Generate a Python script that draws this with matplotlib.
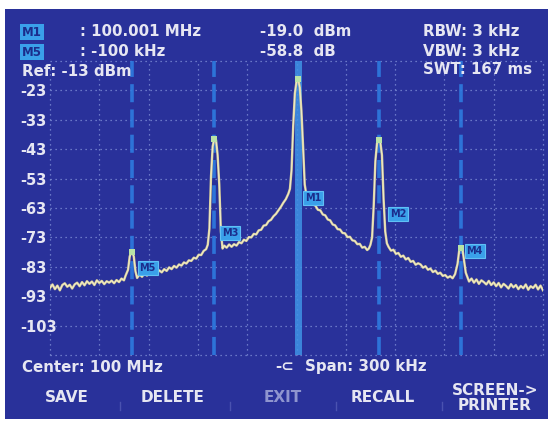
import matplotlib
matplotlib.use("Agg")
import matplotlib.pyplot as plt
from matplotlib.patches import Rectangle

# ---- analyzer settings -------------------------------------------------
center_mhz = 100.0
span_khz = 300
ref_dbm = -13
db_per_div = 10
y_tick_values = [-23, -33, -43, -53, -63, -73, -83, -93, -103]

# ---- measured trace: offset from center (kHz) and level (dBm) ------------
trace_khz = [
    -150, -148.5, -147, -145.5, -144, -142.5, -141, -139.5,
    -138, -136.5, -135, -133.5, -132, -130.5, -129, -127.5,
    -126, -124.5, -123, -121.5, -120, -118.5, -117, -115.5,
    -114, -112.5, -111, -109.5, -108, -106.5, -105, -104,
    -102.5, -101.5, -100.5, -100, -99, -98, -97, -95.5,
    -94, -92.5, -91, -89.5, -88, -86.5, -85, -83.5,
    -82, -80.5, -79, -77.5, -76, -74.5, -73, -71.5,
    -70, -68.5, -67, -65.5, -64, -62.5, -61, -59.5,
    -58, -56.5, -55, -54, -53, -52, -51, -50,
    -49, -48, -47, -46, -45, -44, -42.5, -41,
    -39.5, -38, -36.5, -35, -33.5, -32, -30.5, -29,
    -27.5, -26, -24.5, -23, -21.5, -20, -18.5, -17,
    -15.5, -14, -12.5, -11, -9.5, -8, -6.5, -5,
    -4, -3, -2, -1, 0, 1, 2, 3,
    4, 5, 6, 7, 8.5, 10, 11.5, 13,
    14.5, 16, 17.5, 19, 20.5, 22, 23.5, 25,
    26.5, 28, 29.5, 31, 32.5, 34, 35.5, 37,
    38.5, 40, 41.5, 43, 44, 45, 46, 47,
    48, 49, 50, 51, 52, 53, 54, 55,
    56, 57.5, 59, 60.5, 62, 63.5, 65, 66.5,
    68, 69.5, 71, 72.5, 74, 75.5, 77, 78.5,
    80, 81.5, 83, 84.5, 86, 87.5, 89, 90.5,
    92, 93.5, 95, 96.5, 98, 99, 100, 101,
    102, 103, 104, 105, 106.5, 108, 109.5, 111,
    112.5, 114, 115.5, 117, 118.5, 120, 121.5, 123,
    124.5, 126, 127.5, 129, 130.5, 132, 133.5, 135,
    136.5, 138, 139.5, 141, 142.5, 144, 145.5, 147,
    148.5, 150,
]
trace_dbm = [
    -90.2, -89.0, -90.6, -89.4, -91.0, -89.2, -88.6, -89.8,
    -89.1, -90.4, -89.0, -88.4, -89.6, -88.2, -89.3, -87.9,
    -88.8, -88.0, -89.2, -87.6, -88.5, -87.8, -88.9, -87.9,
    -88.4, -87.7, -88.6, -87.5, -88.2, -87.0, -87.6, -86.0,
    -84.0, -79.5, -77.9, -77.8, -79.5, -84.5, -86.8, -85.6,
    -86.4, -85.2, -86.0, -84.9, -85.7, -84.6, -85.3, -84.2,
    -84.9, -83.8, -84.4, -83.2, -83.8, -82.7, -83.3, -82.2,
    -82.6, -81.5, -81.9, -80.8, -81.0, -79.9, -80.2, -78.9,
    -79.0, -77.6, -77.0, -75.5, -70.0, -52.0, -42.0, -39.5,
    -39.8, -45.0, -55.0, -71.0, -76.8, -75.8, -76.5, -75.4,
    -76.2, -75.3, -75.8, -74.6, -75.0, -73.8, -74.2, -72.9,
    -73.0, -71.8, -72.0, -70.6, -70.4, -69.0, -68.8, -67.5,
    -67.0, -65.8, -65.0, -63.8, -62.6, -61.2, -60.0, -58.2,
    -56.5, -50.0, -35.0, -24.0, -20.0, -19.0, -22.0, -30.0,
    -42.0, -55.0, -58.5, -60.0, -60.4, -61.8, -62.2, -63.6,
    -63.8, -65.2, -65.5, -66.9, -67.2, -68.6, -68.9, -70.2,
    -70.3, -71.5, -71.6, -72.9, -72.8, -74.0, -74.2, -75.3,
    -75.2, -76.5, -76.2, -77.3, -76.8, -75.5, -73.0, -62.0,
    -47.0, -41.0, -40.0, -40.5, -45.0, -60.0, -71.0, -75.0,
    -76.2, -77.5, -77.2, -78.6, -78.3, -79.6, -79.2, -80.5,
    -80.0, -81.3, -81.0, -82.3, -81.8, -82.2, -83.3, -82.8,
    -84.0, -83.6, -84.8, -84.3, -85.4, -85.0, -86.1, -85.8,
    -86.7, -86.2, -86.9, -85.5, -82.0, -77.5, -76.5, -77.0,
    -81.0, -85.0, -86.5, -88.0, -87.0, -88.4, -87.3, -88.8,
    -87.6, -88.2, -89.0, -87.8, -89.2, -88.3, -89.6, -88.5,
    -90.0, -88.8, -89.5, -90.4, -88.9, -90.0, -89.2, -90.6,
    -89.5, -90.3, -89.0, -90.8, -89.6, -90.2, -89.1, -90.7,
    -89.4, -91.0,
]

# ---- markers -------------------------------------------------------------
marker_names = ["M1", "M2", "M3", "M4", "M5"]
marker_khz = [1, 50, -50, 100, -100]
marker_dbm = [-19.0, -40.0, -39.5, -76.5, -77.8]
marker_label_khz = [5, 57, -45.5, 103.5, -95.5]
marker_label_dbm = [-59.6, -65.0, -71.5, -77.6, -83.4]

# ---- readout texts -------------------------------------------------------
m1_freq_text = ": 100.001 MHz"
m5_delta_text = ": -100 kHz"
m1_level_text = "-19.0  dBm"
m5_level_text = "-58.8  dB"
rbw_text = "RBW: 3 kHz"
vbw_text = "VBW: 3 kHz"
swt_text = "SWT: 167 ms"
softkeys = ["SAVE", "DELETE", "EXIT", "RECALL", "SCREEN->\nPRINTER"]
softkey_enabled = [True, True, False, True, True]

# ---- colours -------------------------------------------------------------
SCREEN = "#29319a"
TEXT = "#e6e6f2"
DIM = "#8f95cf"
GRID = "#7f8fd6"
TRACE = "#d9cf98"
TRACE_HI = "#f3efd2"
MARK_LINE = "#2e7be0"
MARK_BOX = "#3aa0ea"
MARK_TXT = "#1b2c8c"

W, H = 551, 421
fig = plt.figure(figsize=(W / 100, H / 100), dpi=100, facecolor="white")


def fx(px):
    return px / W


def fy(py):
    return 1 - py / H


# screen face, kept behind everything else
fig.patches.append(Rectangle((fx(5), fy(419)), fx(543), 410 / H,
                             transform=fig.transFigure, facecolor=SCREEN,
                             edgecolor="none", zorder=-10))

ax = fig.add_axes([fx(50), fy(355), fx(493), 294 / H])
ax.set_facecolor("none")
half = span_khz / 2
ax.set_xlim(-half, half)
ax.set_ylim(ref_dbm - 10 * db_per_div, ref_dbm)
for s in ax.spines.values():
    s.set_visible(False)

# dotted graticule, including the outer frame
for k in range(11):
    ax.axvline(-half + k * span_khz / 10, color=GRID, lw=0.9,
               ls=(0, (1, 3)), zorder=1, clip_on=False)
for k in range(11):
    ax.axhline(ref_dbm - k * db_per_div, color=GRID, lw=0.9,
               ls=(0, (1, 3)), zorder=1, clip_on=False)

# level labels are left-aligned at the screen margin
ax.set_xticks([])
ax.set_yticks(y_tick_values)
ax.set_yticklabels([str(v) for v in y_tick_values])
ax.tick_params(axis="y", length=0, pad=30 * 0.72, labelsize=10.5,
               labelcolor=TEXT)
for lab in ax.get_yticklabels():
    lab.set_fontweight("bold")
    lab.set_horizontalalignment("left")

# marker cursors
for name, mk in zip(marker_names, marker_khz):
    if name == "M1":
        ax.axvline(mk, color="#3f94e6", lw=5, alpha=0.85, zorder=2)
    else:
        ax.axvline(mk, color=MARK_LINE, lw=2.6, ls=(0, (5, 2)), alpha=0.9,
                   zorder=2)

# trace
ax.plot(trace_khz, trace_dbm, color=TRACE, lw=1.7, zorder=4,
        solid_joinstyle="round")
ax.plot(trace_khz, trace_dbm, color=TRACE_HI, lw=0.6, zorder=5)
ax.scatter(marker_khz, marker_dbm, s=14, marker="s", color="#b9e3a6",
           zorder=6, linewidths=0)

# marker tags
for name, lx, ly in zip(marker_names, marker_label_khz, marker_label_dbm):
    ax.text(lx, ly, name, fontsize=7, fontweight="bold", color=MARK_TXT,
            va="center", ha="left", zorder=7,
            bbox=dict(boxstyle="square,pad=0.18", facecolor=MARK_BOX,
                      edgecolor="#60c0f5", lw=0.8))

# header readouts
hdr = dict(fontsize=10.8, fontweight="bold", color=TEXT, va="center")
fig.text(fx(22), fy(32), "M1", fontsize=8.5, fontweight="bold",
         color=MARK_TXT, va="center",
         bbox=dict(boxstyle="square,pad=0.15", facecolor=MARK_BOX,
                   edgecolor="none"))
fig.text(fx(22), fy(52), "M5", fontsize=8.5, fontweight="bold",
         color=MARK_TXT, va="center",
         bbox=dict(boxstyle="square,pad=0.15", facecolor=MARK_BOX,
                   edgecolor="none"))
fig.text(fx(80), fy(32), m1_freq_text, **hdr)
fig.text(fx(80), fy(52), m5_delta_text, **hdr)
fig.text(fx(22), fy(72), f"Ref: {ref_dbm} dBm", **hdr)
fig.text(fx(260), fy(32), m1_level_text, **hdr)
fig.text(fx(260), fy(52), m5_level_text, **hdr)
fig.text(fx(423), fy(32), rbw_text, **hdr)
fig.text(fx(423), fy(52), vbw_text, **hdr)
fig.text(fx(423), fy(70), swt_text, **hdr)

# footer
fig.text(fx(22), fy(367), f"Center: {center_mhz:g} MHz", **hdr)
fig.text(fx(275), fy(367), "-\u2282", **hdr)
fig.text(fx(305), fy(367), f"Span: {span_khz} kHz", **hdr)

key_x = [67, 173, 283, 383, 495]
for label, kx, on in zip(softkeys, key_x, softkey_enabled):
    fig.text(fx(kx), fy(398), label, fontsize=11, fontweight="bold",
             color=TEXT if on else DIM, ha="center", va="center",
             linespacing=1.0)
for sx in [120, 230, 336, 442]:
    fig.add_artist(plt.Line2D([fx(sx), fx(sx)], [fy(410), fy(402)],
                              color="#4a52b0", lw=1.0,
                              transform=fig.transFigure))

fig.savefig("out.png", dpi=100, facecolor="white")
